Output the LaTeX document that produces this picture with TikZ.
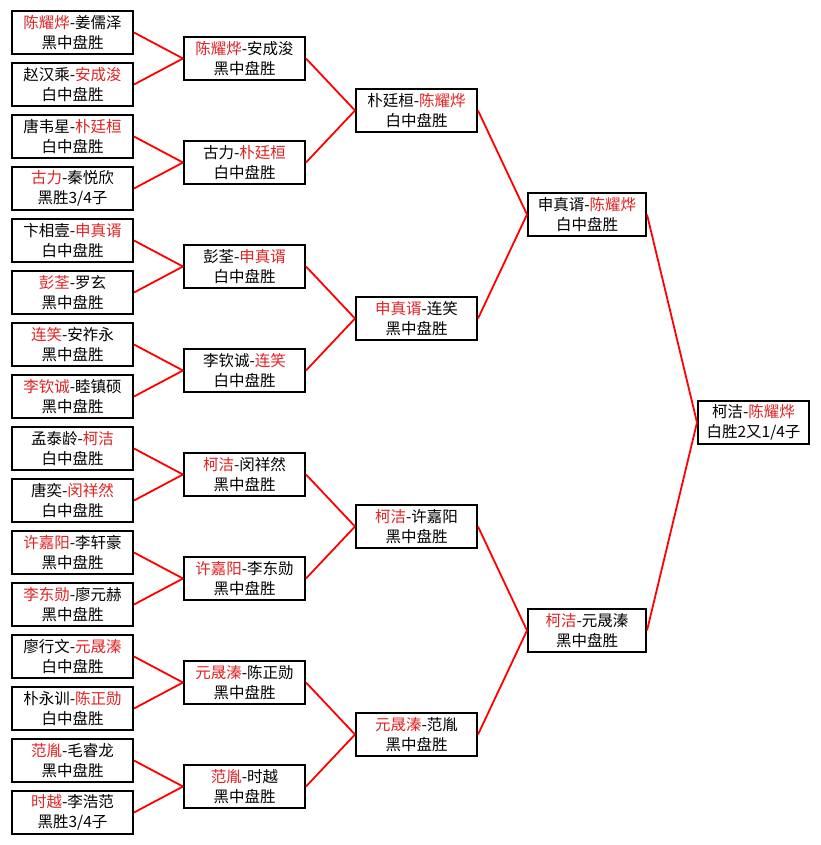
\documentclass[tikz,border=0pt]{standalone}
\usepackage{fontspec}
\setmainfont{Noto Sans CJK SC}
\definecolor{wred}{RGB}{225,35,35}
\newcommand{\rd}[1]{\textcolor{wred}{#1}}
\tikzset{
  game/.style={draw=black, line width=2pt, fill=white, rectangle, inner sep=0pt,
    minimum height=43pt, align=center, font=\fontsize{15.5}{20.5}\selectfont},
  w1/.style={game, minimum width=121pt},
  w4/.style={game, minimum width=118pt},
  w5/.style={game, minimum width=111pt},
  link/.style={draw=red, line width=1.8pt}
}
\begin{document}
\begin{tikzpicture}[x=1pt,y=-1pt]
\useasboundingbox (0,0) rectangle (820,845);
% round 1
\node[w1] (a1)  at (72.5,32.5)  {\rd{陈耀烨}-姜儒泽\\黑中盘胜};
\node[w1] (a2)  at (72.5,84.5)  {赵汉乘-\rd{安成浚}\\白中盘胜};
\node[w1] (a3)  at (72.5,136.5) {唐韦星-\rd{朴廷桓}\\白中盘胜};
\node[w1] (a4)  at (72.5,188.5) {\rd{古力}-秦悦欣\\黑胜3/4子};
\node[w1] (a5)  at (72.5,240.5) {卞相壹-\rd{申真谞}\\白中盘胜};
\node[w1] (a6)  at (72.5,292.5) {\rd{彭荃}-罗玄\\黑中盘胜};
\node[w1] (a7)  at (72.5,344.5) {\rd{连笑}-安祚永\\黑中盘胜};
\node[w1] (a8)  at (72.5,396.5) {\rd{李钦诚}-睦镇硕\\黑中盘胜};
\node[w1] (a9)  at (72.5,448.5) {孟泰龄-\rd{柯洁}\\白中盘胜};
\node[w1] (a10) at (72.5,500.5) {唐奕-\rd{闵祥然}\\白中盘胜};
\node[w1] (a11) at (72.5,552.5) {\rd{许嘉阳}-李轩豪\\黑中盘胜};
\node[w1] (a12) at (72.5,604.5) {\rd{李东勋}-廖元赫\\黑中盘胜};
\node[w1] (a13) at (72.5,656.5) {廖行文-\rd{元晟溱}\\白中盘胜};
\node[w1] (a14) at (72.5,708.5) {朴永训-\rd{陈正勋}\\白中盘胜};
\node[w1] (a15) at (72.5,760.5) {\rd{范胤}-毛睿龙\\黑中盘胜};
\node[w1] (a16) at (72.5,812.5) {\rd{时越}-李浩范\\黑胜3/4子};
% round 2
\node[w1] (b1) at (244.5,58.5)  {\rd{陈耀烨}-安成浚\\黑中盘胜};
\node[w1] (b2) at (244.5,162.5) {古力-\rd{朴廷桓}\\白中盘胜};
\node[w1] (b3) at (244.5,266.5) {彭荃-\rd{申真谞}\\白中盘胜};
\node[w1] (b4) at (244.5,370.5) {李钦诚-\rd{连笑}\\白中盘胜};
\node[w1] (b5) at (244.5,474.5) {\rd{柯洁}-闵祥然\\黑中盘胜};
\node[w1] (b6) at (244.5,578.5) {\rd{许嘉阳}-李东勋\\黑中盘胜};
\node[w1] (b7) at (244.5,682.5) {\rd{元晟溱}-陈正勋\\黑中盘胜};
\node[w1] (b8) at (244.5,786.5) {\rd{范胤}-时越\\黑中盘胜};
% round 3
\node[w1] (c1) at (416.5,110.5) {朴廷桓-\rd{陈耀烨}\\白中盘胜};
\node[w1] (c2) at (416.5,318.5) {\rd{申真谞}-连笑\\黑中盘胜};
\node[w1] (c3) at (416.5,526.5) {\rd{柯洁}-许嘉阳\\黑中盘胜};
\node[w1] (c4) at (416.5,734.5) {\rd{元晟溱}-范胤\\黑中盘胜};
% round 4
\node[w4] (d1) at (587,214.5) {申真谞-\rd{陈耀烨}\\白中盘胜};
\node[w4] (d2) at (587,630.5) {\rd{柯洁}-元晟溱\\黑中盘胜};
% final
\node[w5] (e1) at (753.5,422.5) {柯洁-\rd{陈耀烨}\\白胜2又1/4子};
% links
\foreach \s/\t in {a1/b1,a2/b1,a3/b2,a4/b2,a5/b3,a6/b3,a7/b4,a8/b4,
  a9/b5,a10/b5,a11/b6,a12/b6,a13/b7,a14/b7,a15/b8,a16/b8,
  b1/c1,b2/c1,b3/c2,b4/c2,b5/c3,b6/c3,b7/c4,b8/c4,
  c1/d1,c2/d1,c3/d2,c4/d2,d1/e1,d2/e1}
  \draw[link] (\s.east) -- (\t.west);
\end{tikzpicture}
\end{document}
